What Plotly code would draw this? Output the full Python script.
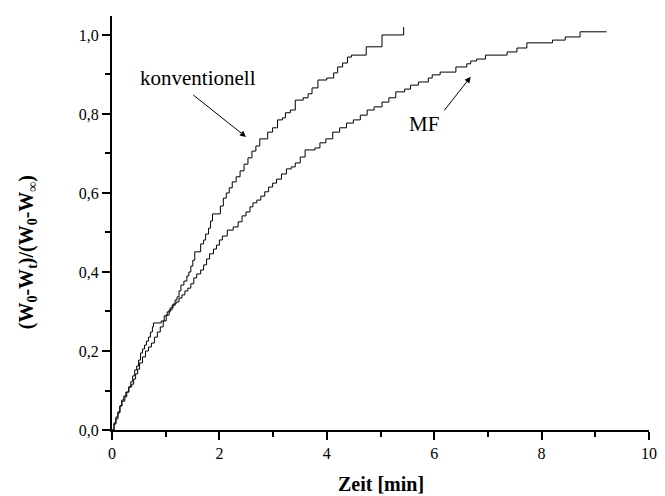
import plotly.graph_objects as go

# Drying curves: normalised mass loss versus time
t_konv = [0, 0.037, 0.073, 0.11, 0.147, 0.183, 0.22, 0.257, 0.312, 0.367, 0.404, 0.44,
          0.477, 0.514, 0.569, 0.624, 0.679, 0.734, 0.789, 0.844, 0.899, 0.954, 1.009,
          1.064, 1.119, 1.174, 1.211, 1.248, 1.284, 1.339, 1.394, 1.431, 1.468, 1.505,
          1.541, 1.651, 1.706, 1.743, 1.798, 1.835, 1.872, 2.018, 2.073, 2.128, 2.183,
          2.239, 2.312, 2.385, 2.459, 2.532, 2.606, 2.679, 2.752, 2.899, 2.991, 3.083,
          3.174, 3.229, 3.321, 3.413, 3.56, 3.651, 3.725, 3.835, 4.0, 4.128, 4.202,
          4.294, 4.385, 4.459, 4.734, 5.028, 5.431]
y_konv = [0, 0.018, 0.033, 0.046, 0.061, 0.076, 0.086, 0.096, 0.109, 0.116, 0.129, 0.142,
          0.154, 0.17, 0.185, 0.2, 0.21, 0.22, 0.235, 0.248, 0.261, 0.276, 0.291,
          0.304, 0.316, 0.329, 0.337, 0.352, 0.367, 0.377, 0.39, 0.4, 0.415, 0.43,
          0.451, 0.471, 0.481, 0.496, 0.511, 0.529, 0.547, 0.567, 0.587, 0.6, 0.613,
          0.628, 0.641, 0.656, 0.673, 0.689, 0.706, 0.719, 0.737, 0.754, 0.765, 0.785,
          0.79, 0.803, 0.81, 0.835, 0.841, 0.851, 0.866, 0.886, 0.891, 0.904, 0.919,
          0.929, 0.944, 0.949, 0.97, 1.0, 1.02]

t_mf = [0, 0.037, 0.073, 0.11, 0.147, 0.183, 0.239, 0.275, 0.312, 0.349, 0.385, 0.422,
        0.459, 0.495, 0.532, 0.569, 0.606, 0.642, 0.679, 0.716, 0.752, 0.771, 0.917,
        0.972, 1.028, 1.083, 1.138, 1.193, 1.248, 1.303, 1.358, 1.413, 1.468, 1.523,
        1.578, 1.651, 1.706, 1.761, 1.817, 1.89, 1.945, 2.0, 2.055, 2.147, 2.257,
        2.349, 2.422, 2.495, 2.569, 2.624, 2.697, 2.771, 2.844, 2.917, 2.991, 3.064,
        3.156, 3.248, 3.339, 3.413, 3.505, 3.596, 3.78, 3.872, 3.982, 4.11, 4.239,
        4.367, 4.495, 4.624, 4.752, 4.881, 5.028, 5.156, 5.284, 5.45, 5.56, 5.706,
        5.89, 5.963, 6.11, 6.404, 6.606, 6.679, 6.789, 6.954, 7.358, 7.541, 7.725,
        8.202, 8.44, 8.716, 9.211]
y_mf = [0, 0.015, 0.028, 0.043, 0.061, 0.073, 0.084, 0.096, 0.109, 0.122, 0.137, 0.152,
        0.162, 0.177, 0.195, 0.205, 0.215, 0.225, 0.235, 0.248, 0.261, 0.271, 0.276,
        0.289, 0.299, 0.309, 0.319, 0.324, 0.334, 0.342, 0.352, 0.359, 0.37, 0.385,
        0.395, 0.405, 0.418, 0.433, 0.446, 0.458, 0.468, 0.481, 0.491, 0.506, 0.514,
        0.527, 0.542, 0.552, 0.565, 0.575, 0.582, 0.592, 0.603, 0.615, 0.625, 0.635,
        0.648, 0.661, 0.666, 0.676, 0.691, 0.709, 0.714, 0.727, 0.737, 0.754, 0.765,
        0.777, 0.785, 0.797, 0.81, 0.818, 0.83, 0.841, 0.856, 0.863, 0.873, 0.881,
        0.891, 0.899, 0.906, 0.919, 0.927, 0.934, 0.939, 0.949, 0.957, 0.967, 0.98,
        0.987, 0.995, 1.008, 1.008]

x_ticks = [0, 2, 4, 6, 8, 10]
y_ticks = [0.0, 0.2, 0.4, 0.6, 0.8, 1.0]

SERIF = "Liberation Serif, Times New Roman, serif"

fig = go.Figure()
for t, y, name in [(t_konv, y_konv, "konventionell"), (t_mf, y_mf, "MF")]:
    fig.add_trace(go.Scatter(x=t, y=y, mode="lines", name=name,
                             line=dict(color="black", width=1, shape="hv")))

axis_common = dict(
    showgrid=False, zeroline=False, showline=True, linecolor="black", linewidth=2,
    ticks="outside", ticklen=8, tickwidth=1.5, tickcolor="black", mirror=False,
    tickfont=dict(family=SERIF, size=16, color="black"),
)

fig.update_xaxes(range=[0, 10], tickvals=x_ticks, tickformat="d",
                 minor=dict(dtick=1, tick0=0, ticks="outside", ticklen=5,
                            tickwidth=1.5, tickcolor="black"),
                 **axis_common)
fig.update_yaxes(range=[0, 1.048], tickvals=y_ticks, tickformat=".1f",
                 minor=dict(dtick=0.1, tick0=0, ticks="outside", ticklen=5,
                            tickwidth=1.5, tickcolor="black"),
                 **axis_common)

annotations = [
    # axis titles
    dict(text="<b>Zeit [min]</b>", xref="paper", yref="paper", x=0.5, y=-0.13,
         xanchor="center", yanchor="middle", showarrow=False,
         font=dict(family=SERIF, size=20, color="black")),
    dict(text="<b>(W<sub>0</sub>-W<sub>t</sub>)/(W<sub>0</sub>-W<sub>∞</sub>)</b>",
         xref="paper", yref="paper", x=-0.156, y=0.43, textangle=-90,
         xanchor="center", yanchor="middle", showarrow=False,
         font=dict(family=SERIF, size=20, color="black")),
    # curve labels
    dict(text="konventionell", x=1.596, y=0.891, xref="x", yref="y", showarrow=False,
         font=dict(family=SERIF, size=21, color="black")),
    dict(text="MF", x=5.817, y=0.775, xref="x", yref="y", showarrow=False,
         font=dict(family=SERIF, size=21, color="black")),
    # pointer arrows
    dict(text="", x=2.495, y=0.742, ax=1.486, ay=0.851, xref="x", yref="y",
         axref="x", ayref="y", showarrow=True, arrowhead=2, arrowsize=1.2,
         arrowwidth=1, arrowcolor="black"),
    dict(text="", x=6.679, y=0.894, ax=6.165, ay=0.805, xref="x", yref="y",
         axref="x", ayref="y", showarrow=True, arrowhead=2, arrowsize=1.2,
         arrowwidth=1, arrowcolor="black"),
]

fig.update_layout(
    width=665, height=496,
    margin=dict(l=112, r=8, t=16, b=66),
    paper_bgcolor="white", plot_bgcolor="white",
    showlegend=False,
    separators=",.",
    annotations=annotations,
)

fig.write_html("out.html")
